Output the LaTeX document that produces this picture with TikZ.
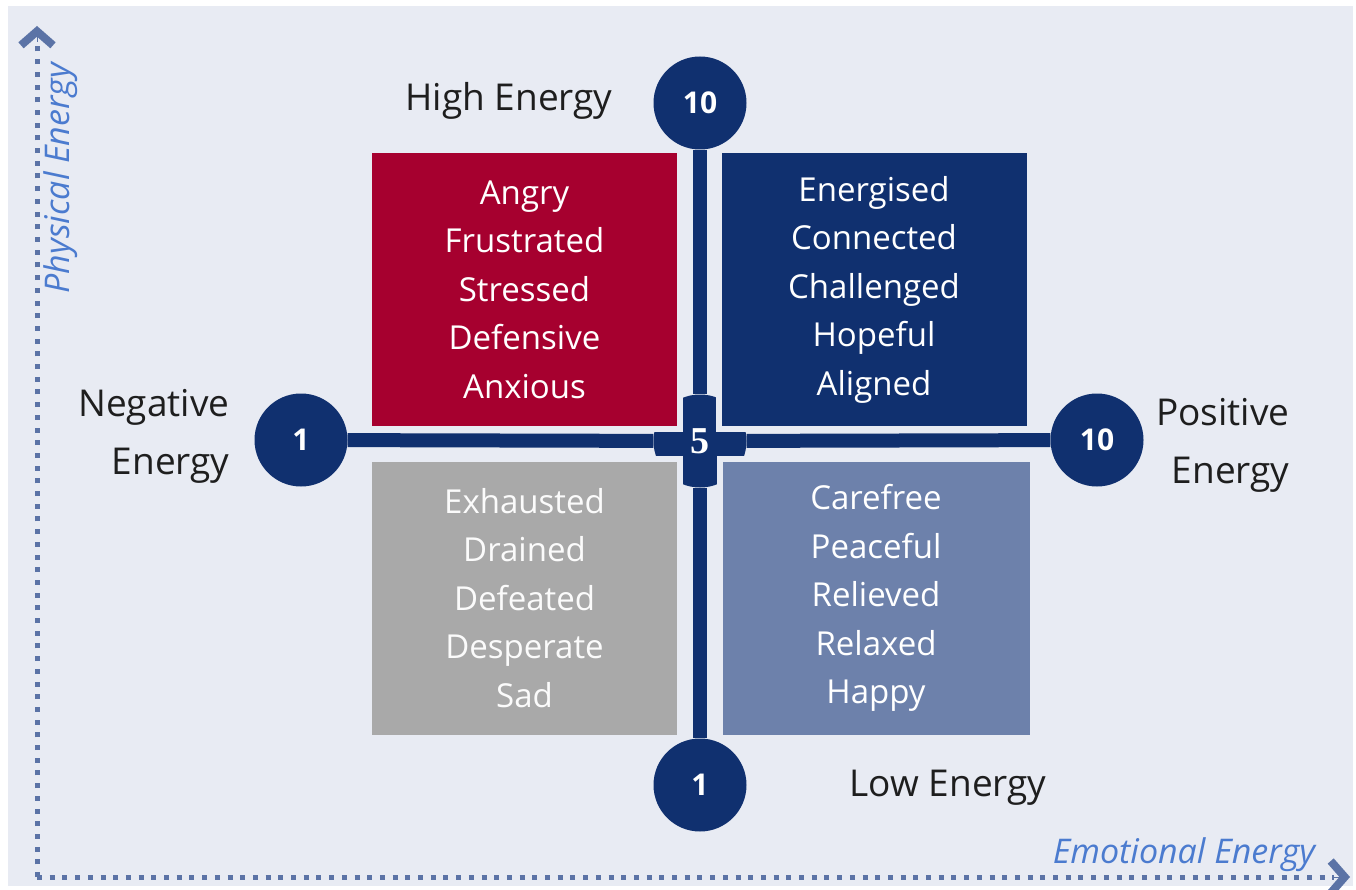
\documentclass[tikz,border=0pt]{standalone}
\usepackage{fontspec}
\setmainfont{Open Sans}
\newfontfamily\numserif{Liberation Serif}
\usetikzlibrary{arrows.meta}

\definecolor{panel}{HTML}{E8EBF3}
\definecolor{navy}{HTML}{10306F}
\definecolor{crimson}{HTML}{A6002F}
\definecolor{stone}{HTML}{A9A9A9}
\definecolor{steel}{HTML}{6D81AB}
\definecolor{axisc}{HTML}{5B73A6}
\definecolor{axislabel}{HTML}{4B7BCF}
\definecolor{ink}{HTML}{1E1E1E}

\tikzset{
  quad/.style={draw=panel, line width=6pt, minimum width=311pt, minimum height=279pt,
    inner sep=0pt, text=white, align=center,
    font=\fontsize{33}{48.5}\selectfont},
  dial/.style={circle, fill=navy, minimum size=93pt, inner sep=0pt, text=white,
    font=\fontsize{30}{30}\selectfont\bfseries},
  bar/.style={navy, line width=14pt},
  axisline/.style={axisc, line width=5pt, dash pattern=on 5pt off 7.7pt},
  axistip/.style={-{Straight Barb[length=14pt, width=32pt, line width=8pt]}},
  axisname/.style={text=axislabel, font=\fontsize{34}{36}\selectfont\itshape},
  pole/.style={text=ink, font=\fontsize{37}{58}\selectfont},
}

\begin{document}
\begin{tikzpicture}[x=1pt, y=-1pt]
  \useasboundingbox (0,0) rectangle (1356,890);
  \fill[panel] (8,6) rectangle (1353,886);

  % axes
  \coordinate (o) at (37,877);
  \coordinate (ytip) at (37,26);
  \coordinate (xtip) at (1350,877);
  \coordinate (ybase) at (37,42);
  \coordinate (xbase) at (1334,877);
  \draw[axisline] (o) -- (ybase);
  \draw[axisline] (o) -- (xbase);
  \draw[axisc, axistip, line width=0.1pt] (ybase) -- (ytip);
  \draw[axisc, axistip, line width=0.1pt] (xbase) -- (xtip);
  \node[axisname, rotate=90] (ylab) at (61,178) {Physical Energy};
  \node[axisname] (xlab) at (1184,855) {Emotional Energy};

  % centre dial, partly covered by the four quadrants
  \node[dial, font=\fontsize{38}{38}\selectfont\bfseries\numserif] (c5) at (700,441) {5};

  % quadrants
  \node[quad, fill=crimson] (qa) at (524.5,289.5) {Angry\\Frustrated\\Stressed\\Defensive\\Anxious};
  \node[quad, fill=navy] (qb) at (874,289.5) {Energised\\Connected\\Challenged\\Hopeful\\Aligned};
  \node[quad, fill=stone, text=white!95!stone] (qc) at (524.5,598) {Exhausted\\Drained\\Defeated\\Desperate\\Sad};
  \node[quad, fill=steel, minimum width=313pt] (qd) at (876,598) {Carefree\\Peaceful\\Relieved\\Relaxed\\Happy};

  % scale dials
  \node[dial] (c10v) at (700,103) {10};
  \node[dial] (c1v) at (700,785) {1};
  \node[dial] (c1h) at (301,440) {1};
  \node[dial] (c10h) at (1097,440) {10};

  % bars joining the dials
  \draw[bar] (c10v) -- (c5);
  \draw[bar] (c5) -- (c1v);
  \draw[bar] (c1h) -- (c5);
  \draw[bar] (c5) -- (c10h);

  % pole labels
  \node[pole] (hi) at (509,101) {High Energy};
  \node[pole] (lo) at (948,788) {Low Energy};
  \node[pole, align=right, anchor=east] (neg) at (233,436) {Negative\\Energy};
  \node[pole, align=right, anchor=east] (pos) at (1293,445) {Positive\\Energy};
\end{tikzpicture}
\end{document}
